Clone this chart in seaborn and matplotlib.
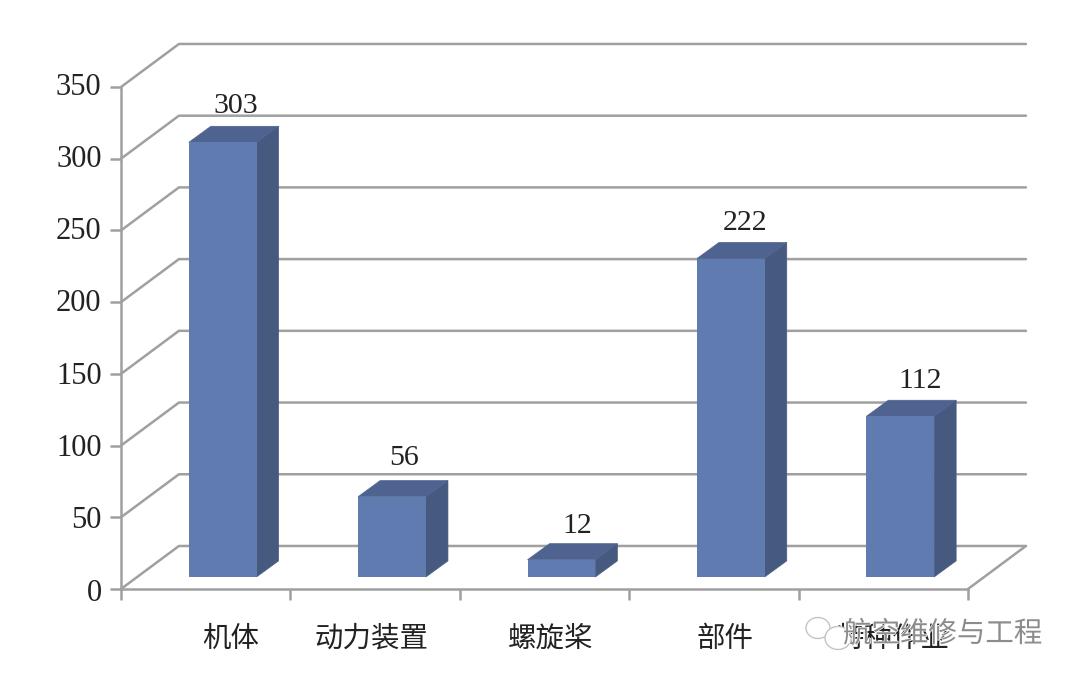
import matplotlib
matplotlib.use("Agg")
import matplotlib.pyplot as plt
import matplotlib.patheffects as pe
from matplotlib.patches import Ellipse, Polygon
from matplotlib.transforms import ScaledTranslation
import pandas as pd
import seaborn as sns

# data
categories = ["机体", "动力装置", "螺旋桨", "部件", "特种作业"]
values = [303, 56, 12, 222, 112]
y_ticks = [0, 50, 100, 150, 200, 250, 300, 350]

FRONT = "#5F7BB0"
SIDE = "#465A80"
TOP = "#4E6390"
GRID = "#A0A0A0"
CJK = ["Noto Sans CJK SC", "DejaVu Sans"]

sns.set_theme(style="white")
plt.rcParams["font.family"] = ["Liberation Serif", "DejaVu Serif"]

fig = plt.figure(figsize=(10.8, 6.82), dpi=100)
ax = fig.add_axes([121 / 1080, 1 - 589 / 682, 847 / 1080, 502 / 682])

df = pd.DataFrame({"part": categories, "count": values})

# 3d look, depths in data units
wall_dx, wall_dy = 0.342, 30
bar_dx, bar_dy = 0.13, 11.2
bar_shift, bar_floor = 0.1, 8.4

# back wall and floor
for v in y_ticks:
    ax.plot([-0.5, -0.5 + wall_dx, 4.5 + wall_dx], [v, v + wall_dy, v + wall_dy],
            color=GRID, lw=1.8, clip_on=False, zorder=1)
ax.plot([4.5, 4.5 + wall_dx], [0, wall_dy], color=GRID, lw=1.8, clip_on=False, zorder=1)

sns.barplot(data=df, x="part", y="count", order=categories, color=FRONT, saturation=1,
            width=0.4, bottom=bar_floor, ax=ax, zorder=4)

for bar, val in zip(ax.patches, values):
    bar.set_x(bar.get_x() + bar_shift)
    bar.set_linewidth(0)
    x0, x1 = bar.get_x(), bar.get_x() + bar.get_width()
    y0, y1 = bar_floor, bar_floor + val
    ax.add_patch(Polygon([(x1, y0), (x1 + bar_dx, y0 + bar_dy), (x1 + bar_dx, y1 + bar_dy), (x1, y1)],
                         fc=SIDE, ec=SIDE, lw=0.5, clip_on=False, zorder=3))
    ax.add_patch(Polygon([(x0, y1), (x0 + bar_dx, y1 + bar_dy), (x1 + bar_dx, y1 + bar_dy), (x1, y1)],
                         fc=TOP, ec=TOP, lw=0.5, clip_on=False, zorder=3))

# value labels, nudged in px to where the source has them
label_nudge = [2, 1, 5, 3, 9]
label_rise = [20, 23, 18, 19, 19]
for i, val in enumerate(values):
    ax.annotate(str(val), (i + bar_shift + bar_dx / 2, bar_floor + val + bar_dy),
                xytext=(label_nudge[i] * 0.72, label_rise[i] * 0.72), textcoords="offset points",
                ha="center", va="center", fontsize=21.5, color="#222222", zorder=5)

ax.set_xlim(-0.5, 4.5)
ax.set_ylim(0, 350)
ax.set_xlabel("")
ax.set_ylabel("")
ax.set_yticks(y_ticks)
ax.set_xticks([i - 0.5 for i in range(6)])
ax.set_xticklabels([])
ax.tick_params(axis="both", length=8, width=1.8, color=GRID, left=True, bottom=True)
ax.tick_params(axis="y", labelsize=22, labelcolor="#222222", pad=6)
# numbers drift against their ticks in the source, low at 0 and high at 350
tick_lift = [-2, -1, 0, 0, 1, 1, 2, 2]
for lab, lift in zip(ax.get_yticklabels(), tick_lift):
    lab.set_transform(lab.get_transform() + ScaledTranslation(0, (lift + 1) / 100, fig.dpi_scale_trans))
ax.patch.set_alpha(0)
sns.despine(ax=ax)
for side in ["left", "bottom"]:
    ax.spines[side].set_color(GRID)
    ax.spines[side].set_linewidth(1.8)

# category labels sit a bit right of the slot centre
label_x = [231, 372, 551, 725, 893]
for name, lx in zip(categories, label_x):
    fig.text(lx / 1080, 1 - 639 / 682, name, family=CJK, fontsize=20.5, weight="medium",
             color="#222222", ha="center", va="center")

# watermark on top
for cx, cy, w, h in [(818, 628, 24, 21), (838, 638, 26, 23)]:
    fig.add_artist(Ellipse((cx / 1080, 1 - cy / 682), w / 1080, h / 682, transform=fig.transFigure,
                           fc="white", ec="#C4C4C4", lw=1, zorder=6))
fig.text(843 / 1080, 1 - 634 / 682, "航空维修与工程", family=CJK, fontsize=20.5, color="#8C8C8C",
         ha="left", va="center", zorder=7,
         path_effects=[pe.withStroke(linewidth=1, foreground="white")])

fig.savefig("out.png", dpi=100, facecolor="white")
